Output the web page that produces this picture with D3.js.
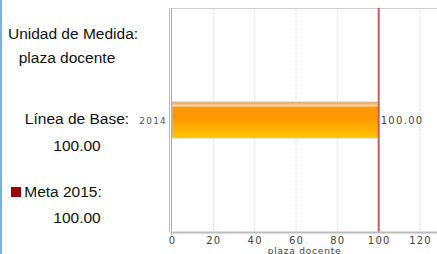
<!DOCTYPE html>
<html><head><meta charset="utf-8">
<script src="https://cdn.jsdelivr.net/npm/d3@7"></script>
<style>body{margin:0;background:#fff}svg{display:block}</style>
</head><body>
<svg id="c" width="437" height="254"></svg>
<script>
const categories = ["2014"];
const values = [100.00];
const metaValue = 100.00;
const xTicks = [0, 20, 40, 60, 80, 100, 120];
const unitLabel = "plaza docente";
const infoLines = ["Unidad de Medida:", "plaza docente", "Línea de Base:", "100.00", "Meta 2015:", "100.00"];

const svg = d3.select("#c");
const W = 437, H = 254;
const m = {left: 172, right: 0, top: 8, bottom: 22};

// left blue border
svg.append("rect").attr("x", 0).attr("y", 0).attr("width", 2).attr("height", H).attr("fill", "#7fb0da");

const x = d3.scaleLinear().domain([0, 128.2]).range([m.left, W - m.right]);
const y = d3.scaleBand().domain(categories).range([m.top, H - m.bottom]).paddingInner(0).paddingOuter(2.61);

const defs = svg.append("defs");
const g = defs.append("linearGradient").attr("id", "bg").attr("x1", 0).attr("y1", 0).attr("x2", 0).attr("y2", 1);
[[0, "#ff9a10"], [0.06, "#ffb860"], [0.1, "#ffe0b8"], [0.15, "#ff9a10"], [0.4, "#ff9500"], [0.8, "#ffb400"], [1, "#ffc800"]]
  .forEach(([o, c]) => g.append("stop").attr("offset", o).attr("stop-color", c));

// grid lines
svg.append("g").selectAll("line").data(xTicks.filter(d => d > 0 && d !== metaValue)).join("line")
  .attr("x1", d => x(d)).attr("x2", d => x(d)).attr("y1", m.top).attr("y2", H - m.bottom)
  .attr("stroke", "#e2e2e2").attr("stroke-width", 1).attr("stroke-dasharray", "3,1");

// top border
svg.append("line").attr("x1", m.left).attr("x2", W).attr("y1", m.top + 0.5).attr("y2", m.top + 0.5)
  .attr("stroke", "#cfcfcf");

// bars
svg.append("g").selectAll("rect").data(values).join("rect")
  .attr("x", x(0)).attr("y", (d, i) => y(categories[i]))
  .attr("width", d => x(d) - x(0)).attr("height", y.bandwidth())
  .attr("fill", "url(#bg)").attr("stroke", "#cccccc").attr("stroke-width", 1);

// meta line
svg.append("line").attr("x1", x(metaValue)).attr("x2", x(metaValue)).attr("y1", m.top).attr("y2", H - m.bottom)
  .attr("stroke", "#c0605f").attr("stroke-width", 2);

// value labels
svg.append("g").selectAll("text").data(values).join("text")
  .attr("x", d => x(d) + 2).attr("y", (d, i) => y(categories[i]) + y.bandwidth() / 2 + 4)
  .attr("font-family", "DejaVu Sans").attr("font-size", 10).attr("letter-spacing", 1.3)
  .attr("fill", "#444").text(d => d.toFixed(2));

// category labels
svg.append("g").selectAll("text").data(categories).join("text")
  .attr("x", m.left - 5).attr("y", d => y(d) + y.bandwidth() / 2 + 4).attr("text-anchor", "end")
  .attr("font-family", "DejaVu Sans").attr("font-size", 9).attr("letter-spacing", 1.2)
  .attr("fill", "#555").text(d => d);

// left axis (double line)
svg.append("line").attr("x1", m.left - 2.5).attr("x2", m.left - 2.5).attr("y1", m.top).attr("y2", H - m.bottom)
  .attr("stroke", "#bbb").attr("stroke-width", 1);
svg.append("line").attr("x1", m.left - 0.5).attr("x2", m.left - 0.5).attr("y1", m.top).attr("y2", H - m.bottom + 3)
  .attr("stroke", "#aaa").attr("stroke-width", 1);

// bottom axis
const xa = svg.append("g").attr("transform", `translate(0,${H - m.bottom})`)
  .call(d3.axisBottom(x).tickValues(xTicks).tickSize(0).tickPadding(5).tickFormat(d3.format("d")));
xa.select(".domain").attr("stroke", "#bbb").attr("stroke-width", 2);
xa.selectAll("text").attr("font-family", "DejaVu Sans").attr("font-size", 10).attr("letter-spacing", 1.2)
  .attr("fill", "#444");

svg.append("text").attr("x", (m.left + W) / 2).attr("y", H - 0.5).attr("text-anchor", "middle")
  .attr("font-family", "DejaVu Sans").attr("font-size", 9).attr("letter-spacing", 0.8)
  .attr("fill", "#444").text(unitLabel);

// info panel
const info = svg.append("g").attr("font-family", "Liberation Sans, Arial").attr("font-size", 15.5).attr("fill", "#111");
const infoPos = [[73, 39], [67, 63], [77, 124], [77, 151], [63, 197], [77, 223]];
infoLines.forEach((t, i) => {
  info.append("text").attr("x", infoPos[i][0]).attr("y", infoPos[i][1]).attr("text-anchor", "middle").text(t);
});
svg.append("rect").attr("x", 11).attr("y", 187).attr("width", 10).attr("height", 10).attr("fill", "#990000");
</script>
</body></html>
